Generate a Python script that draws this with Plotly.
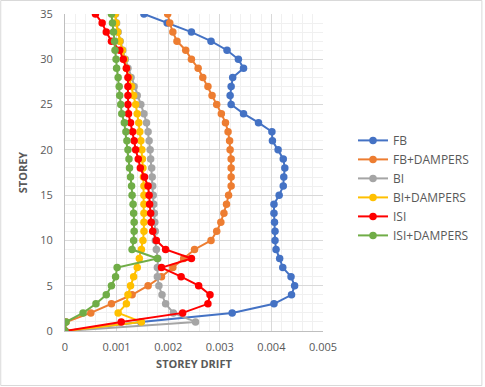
import plotly.graph_objects as go

storeys = list(range(0, 36))

fb = [0, 0.00147, 0.00324, 0.00405, 0.00439, 0.00445, 0.00438, 0.00422, 0.00416, 0.00409,
      0.00407, 0.00407, 0.00406, 0.00405, 0.00405, 0.00415, 0.00423, 0.00424, 0.00426, 0.00423,
      0.00413, 0.00402, 0.00401, 0.00375, 0.00346, 0.00322, 0.0032, 0.00322, 0.00325, 0.00346,
      0.00336, 0.00314, 0.00283, 0.00245, 0.00198, 0.00153]

fb_d = [0, 0.00002, 0.0005, 0.0009, 0.0013, 0.00161, 0.00187, 0.00209, 0.0023, 0.00251,
        0.00283, 0.00294, 0.00302, 0.00308, 0.00313, 0.00317, 0.00322, 0.00322, 0.00322, 0.00322,
        0.0032, 0.00319, 0.00316, 0.00311, 0.00303, 0.00294, 0.00285, 0.00277, 0.00267, 0.00258,
        0.00245, 0.00234, 0.00217, 0.00209, 0.00203, 0.00199]

bi = [0, 0.00253, 0.0021, 0.00195, 0.00188, 0.00182, 0.00179, 0.00179, 0.0018, 0.00177,
      0.00175, 0.00175, 0.00174, 0.00173, 0.00172, 0.00171, 0.0017, 0.00169, 0.00168, 0.00166,
      0.00165, 0.00163, 0.00161, 0.00158, 0.00153, 0.00147, 0.0014, 0.00134, 0.00128, 0.00122,
      0.00117, 0.00112, 0.00107, 0.00103, 0.001, 0.00098]

bi_d = [0, 0.00148, 0.00103, 0.00119, 0.00122, 0.00127, 0.00133, 0.0014, 0.00144, 0.00148,
        0.00151, 0.00153, 0.00153, 0.00153, 0.00153, 0.00153, 0.00153, 0.00152, 0.00151, 0.0015,
        0.00149, 0.00147, 0.00145, 0.00143, 0.0014, 0.00137, 0.00133, 0.00129, 0.00124, 0.00119,
        0.00115, 0.00111, 0.00106, 0.00102, 0.00099, 0.00097]

isi = [0, 0.00109, 0.00228, 0.00277, 0.00281, 0.00259, 0.00225, 0.00187, 0.00245, 0.00195,
       0.00177, 0.0017, 0.00167, 0.00166, 0.00164, 0.00163, 0.00161, 0.00154, 0.00146, 0.00142,
       0.00137, 0.00134, 0.00131, 0.00127, 0.00123, 0.00122, 0.00122, 0.00122, 0.00122, 0.00119,
       0.00113, 0.00106, 0.0009, 0.0008, 0.00072, 0.00059]

isi_d = [0, 0.00002, 0.00035, 0.0006, 0.0008, 0.0009, 0.00098, 0.00101, 0.00179, 0.0013,
         0.00133, 0.00134, 0.00134, 0.00133, 0.00132, 0.0013, 0.00129, 0.00127, 0.00125, 0.00124,
         0.00122, 0.0012, 0.00118, 0.00115, 0.0011, 0.00108, 0.00106, 0.00105, 0.00103, 0.001,
         0.00099, 0.00097, 0.00096, 0.00094, 0.00092, 0.0009]

series_names = ["FB", "FB+DAMPERS", "BI", "BI+DAMPERS", "ISI", "ISI+DAMPERS"]
series_values = [fb, fb_d, bi, bi_d, isi, isi_d]
colors = ["#4472C4", "#ED7D31", "#A5A5A5", "#FFC000", "#FF0000", "#70AD47"]

x_ticks = [0, 0.001, 0.002, 0.003, 0.004, 0.005]
x_tick_labels = ["0", "0.001", "0.002", "0.003", "0.004", "0.005"]
y_ticks = [0, 5, 10, 15, 20, 25, 30, 35]

fig = go.Figure()
for name, vals, col in zip(series_names, series_values, colors):
    fig.add_trace(go.Scatter(
        x=vals, y=storeys, name=name, mode="lines+markers",
        line=dict(color=col, width=2),
        marker=dict(color=col, size=7.5),
        legendgroup=name,
    ))

font_fam = "Open Sans, Liberation Sans, Arial, sans-serif"
W, H = 485, 387
L, T = 65, 14
PW, PH = 259, 317
fig.update_layout(
    width=W, height=H,
    margin=dict(l=L, r=W - L - PW, t=T, b=H - T - PH),
    paper_bgcolor="white", plot_bgcolor="white",
    font=dict(family=font_fam, size=11, color="#595959"),
    showlegend=True,
    legend=dict(x=1.112, y=0.647, xanchor="left", yanchor="top",
                font=dict(size=12, color="#595959"),
                tracegroupgap=0, bgcolor="rgba(0,0,0,0)"),
    xaxis=dict(range=[0, 0.005], tickvals=x_ticks, ticktext=x_tick_labels,
               showgrid=True, gridcolor="#D9D9D9", gridwidth=1,
               minor=dict(dtick=0.0002, showgrid=True, gridcolor="#F0F0F0"),
               showline=True, linecolor="#BFBFBF", zeroline=False,
               ticks="", ticklabelstandoff=6, automargin=False,
               ticklabeloverflow="allow",
               title=dict(text="<b>STOREY DRIFT</b>", standoff=7,
                          font=dict(size=11, color="#595959"))),
    yaxis=dict(range=[0, 35], tickvals=y_ticks,
               showgrid=True, gridcolor="#D9D9D9", gridwidth=1,
               minor=dict(dtick=1, showgrid=True, gridcolor="#F0F0F0"),
               showline=True, linecolor="#BFBFBF", zeroline=False,
               ticks="", ticklabelstandoff=9, automargin=False,
               ticklabeloverflow="allow",
               title=dict(text="<b>STOREY</b>", standoff=10,
                          font=dict(size=11, color="#595959"))),
)

# chart-area border
fig.add_shape(type="rect", xref="paper", yref="paper",
              x0=(0.5 - L) / PW, x1=(483.5 - L) / PW,
              y0=(T + PH - 385.5) / PH, y1=(T + PH - 0.5) / PH,
              line=dict(color="#D9D9D9", width=1))

fig.write_html("out.html",
               config={"displayModeBar": False},
               post_script="document.body.style.margin='0px';")
